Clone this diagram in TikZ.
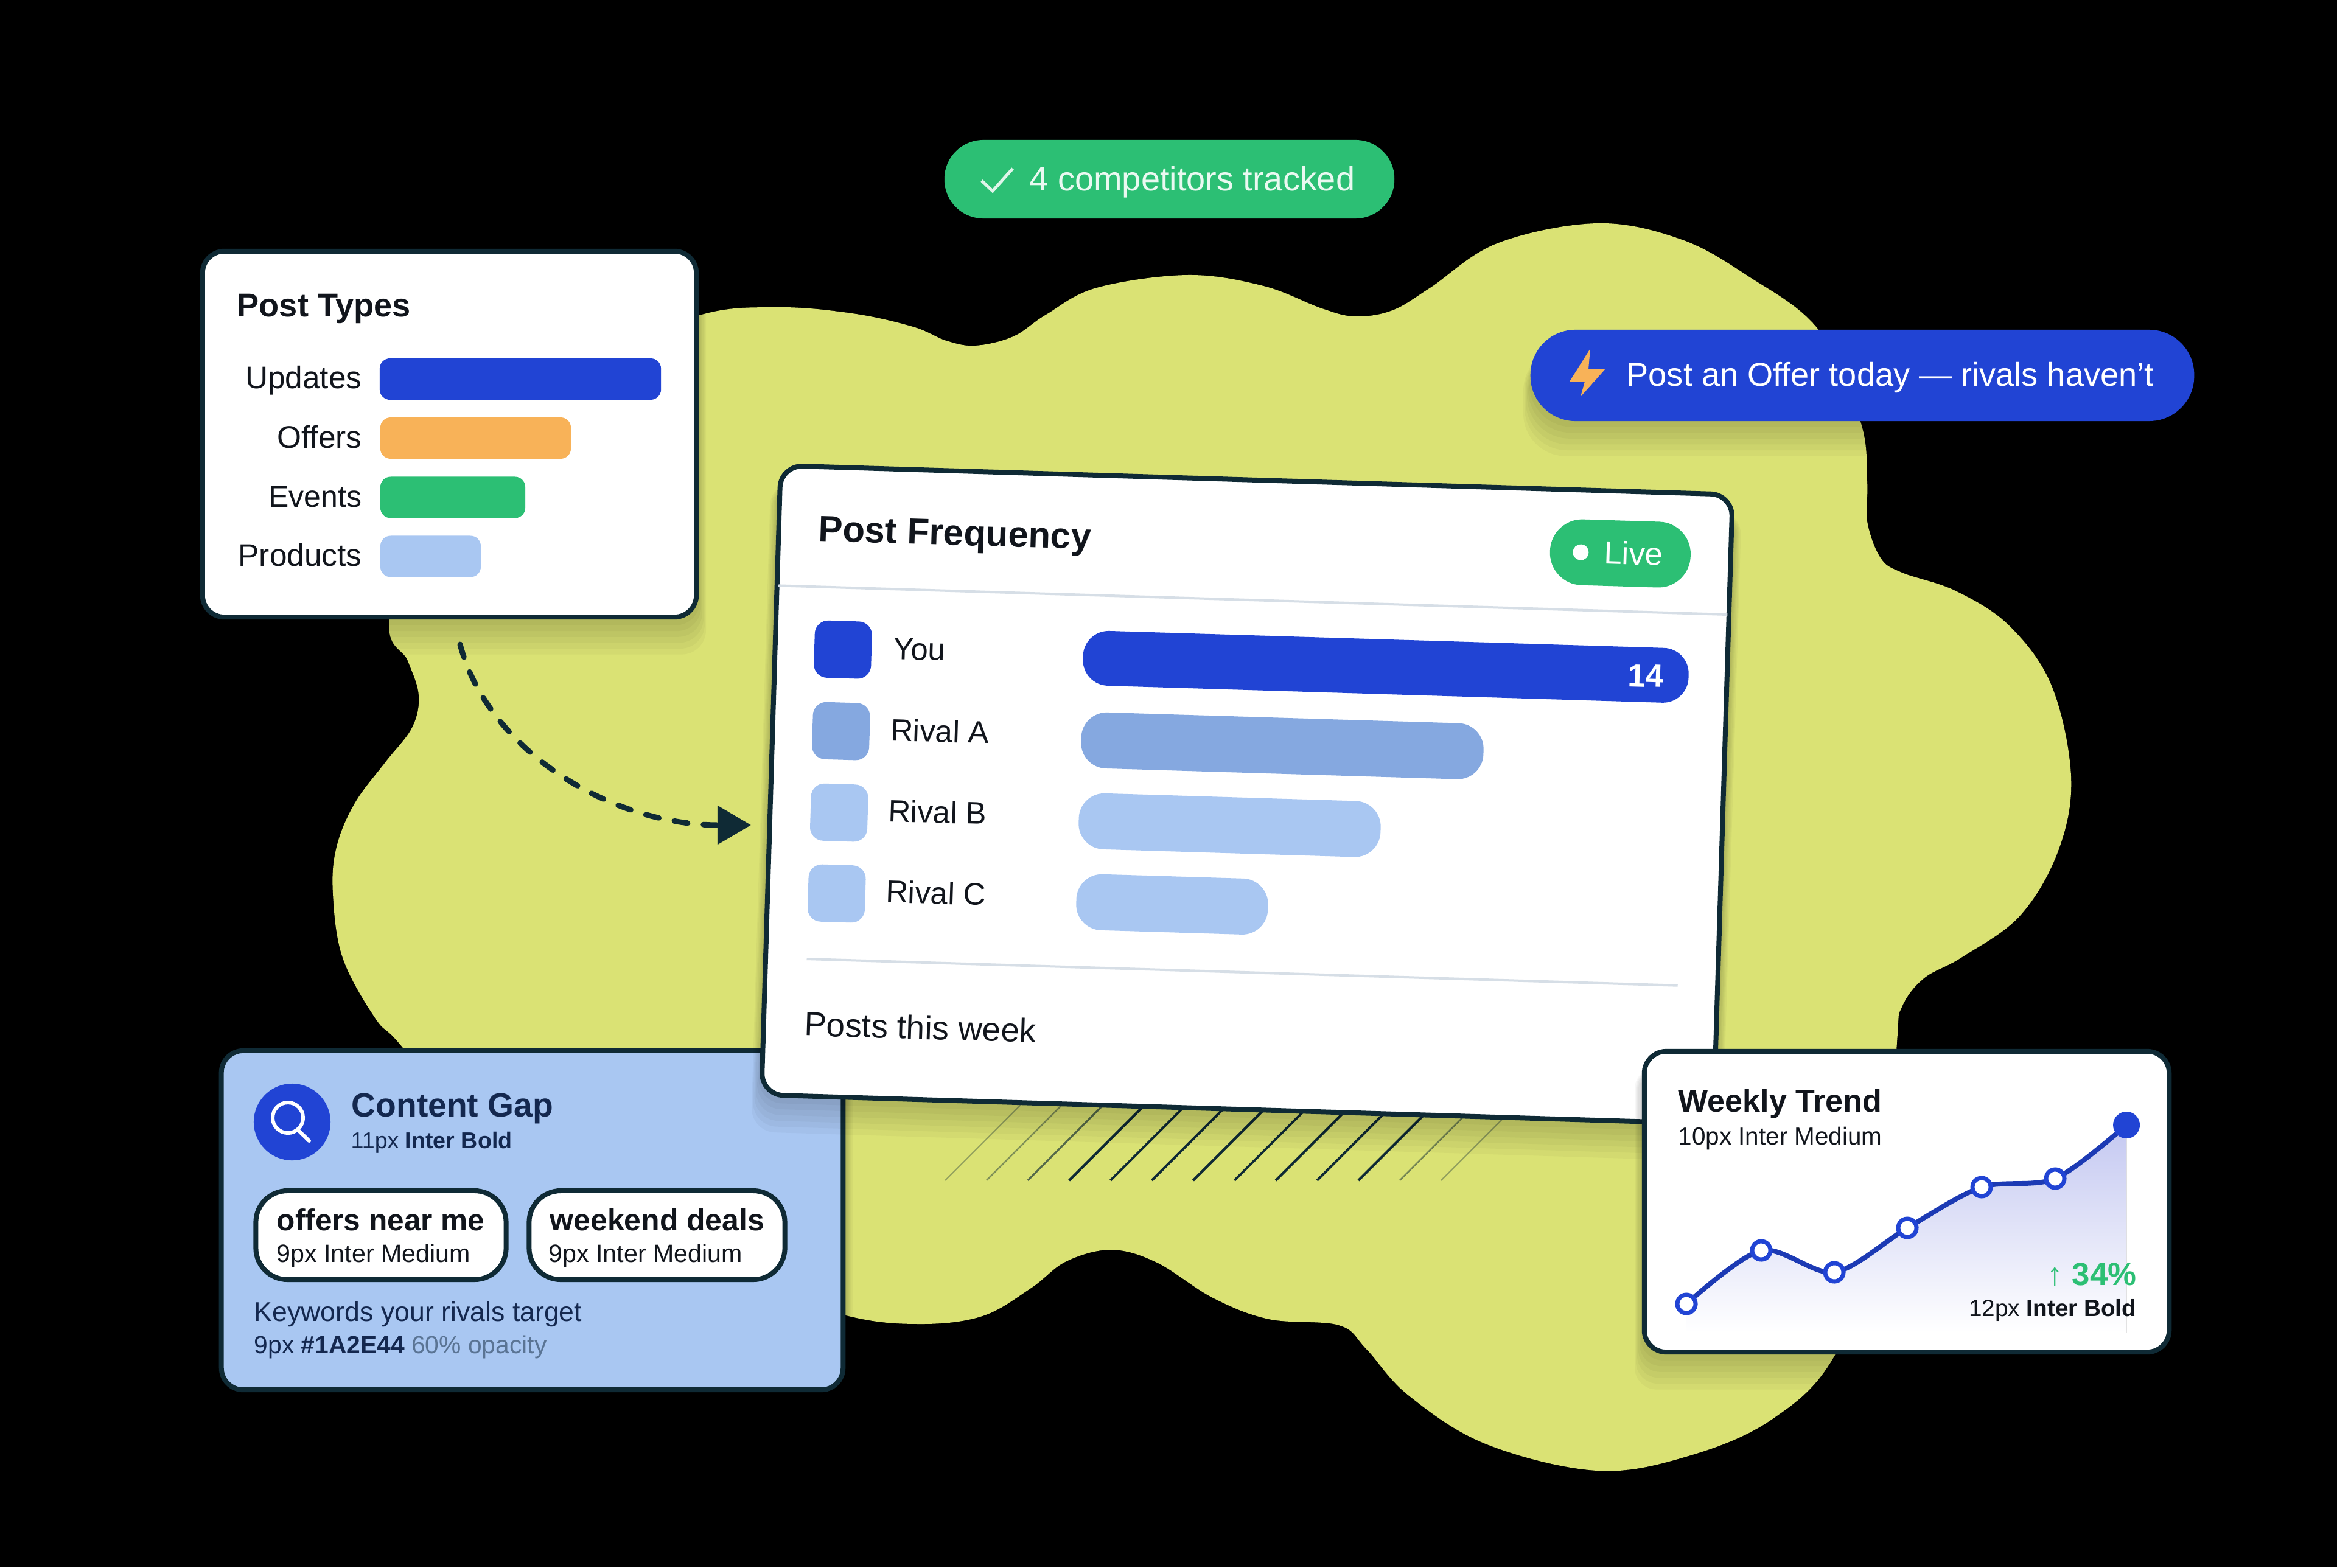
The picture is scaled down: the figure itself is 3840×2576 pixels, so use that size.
\documentclass[tikz,border=0pt]{standalone}
\usepackage{fontspec}
\setmainfont{Liberation Sans}
\usetikzlibrary{arrows.meta}
\definecolor{ink}{HTML}{0F2A35}
\definecolor{navy}{HTML}{14284F}
\definecolor{faded}{HTML}{5A7494}
\definecolor{nearblack}{HTML}{11151C}
\definecolor{blob}{HTML}{DAE274}
\definecolor{royal}{HTML}{2144D4}
\definecolor{rivalA}{HTML}{85A8E0}
\definecolor{rivalB}{HTML}{A9C7F2}
\definecolor{leaf}{HTML}{2CBF74}
\definecolor{amber}{HTML}{F8B258}
\definecolor{hairline}{HTML}{D6DEE6}
\definecolor{lilac}{HTML}{C4C8F1}
\tikzset{
  card/.style={draw=ink,line width=0.08cm,fill=white,rounded corners=0.36cm,inner sep=0},
  bar/.style={inner sep=0,rounded corners=0.17cm},
  pill/.style={inner sep=0,rounded corners=0.4cm},
  lab/.style={inner sep=0,anchor=base west,text=nearblack,font=\fontsize{#1}{#1}\selectfont},
  labb/.style={inner sep=0,anchor=base west,text=nearblack,font=\fontsize{#1}{#1}\selectfont\bfseries},
  sepline/.style={draw=hairline,line width=0.04cm},
  trendpt/.style={circle,draw=royal,line width=0.07cm,fill=white,minimum size=0.3cm,inner sep=0}
}
\newcommand{\drawcard}{\node[card]}
\newcommand{\drawbar}{\node[bar]}
\newcommand{\drawswatch}{\node[bar,rounded corners=0.22cm,minimum size=0.94cm]}
\newcommand{\softshadow}[5]{
  \foreach \g in {6,12,...,36}
    \fill[black,opacity=0.03,rounded corners=#5cm] (#1-\g/3,#2+30) rectangle (#3+\g/3,#4+\g*1.6);
}

\begin{document}
\begin{tikzpicture}[x=0.01cm,y=-0.01cm]
\useasboundingbox (0,0) rectangle (3840,2576);
\fill[black] (0,0) rectangle (3840,2576);

%backdrop
\fill[blob] plot[smooth cycle,tension=0.6] coordinates {
  (1146,519) (1275,505) (1400,515) (1500,537) (1555,560) (1603,568) (1665,553) (1719,517)
  (1802,473) (1952,452) (2076,470) (2172,507) (2227,520) (2288,510) (2350,473) (2460,400)
  (2624,367) (2761,393) (2871,453) (2988,542) (3057,693) (3068,792) (3068,857) (3090,917)
  (3125,941) (3213,971) (3301,1028) (3371,1127) (3403,1277) (3382,1398) (3319,1505) (3224,1573)
  (3161,1608) (3125,1655) (3117,1712) (3100,2000) (3015,2227) (2911,2333) (2774,2393) (2624,2417)
  (2441,2373) (2314,2293) (2245,2217) (2200,2178) (2085,2168) (1993,2133) (1901,2075)
  (1826,2054) (1752,2073) (1694,2117) (1614,2163) (1511,2176) (1390,2162) (1200,2100)
  (800,1900) (662,1722) (617,1674) (563,1574) (547,1468) (553,1392) (583,1320)
  (633,1253) (677,1196) (688,1143) (670,1086) (640,1019) (700,800) (950,600)};

%hatching under the main card
\foreach \i/\o/\w in {0/0.35/0.02,1/0.45/0.025,2/0.65/0.03,3/1/0.04,4/1/0.04,5/1/0.04,6/1/0.04,7/1/0.04,8/1/0.04,9/1/0.04,10/1/0.04,11/0.5/0.025,12/0.35/0.02}
  \draw[ink,opacity=\o,line width=\w cm] (1553+67.9*\i,1940) -- (1553+67.9*\i+135,1805);

%post types
\softshadow{329}{409}{1148}{1018}{0.4}
\drawcard[minimum width=8.11cm,minimum height=6.01cm] (types) at (738.5,713.5) {};
\node[labb=15.4] (typesTitle) at (389,521) {Post Types};
\drawbar[fill=royal,minimum width=4.62cm,minimum height=0.68cm] (barUpdates) at (855,623) {};
\drawbar[fill=amber,minimum width=3.13cm,minimum height=0.68cm] (barOffers) at (781.5,720) {};
\drawbar[fill=leaf,minimum width=2.38cm,minimum height=0.68cm] (barEvents) at (744,817.5) {};
\drawbar[fill=rivalB,minimum width=1.65cm,minimum height=0.68cm] (barProducts) at (707.5,914.5) {};
\node[lab=14.6,anchor=base east] (labUpdates) at (595,638) {Updates};
\node[lab=14.6,anchor=base east] (labOffers) at (595,736) {Offers};
\node[lab=14.2,anchor=base east] (labEvents) at (595,833) {Events};
\node[lab=14.6,anchor=base east] (labProducts) at (595,930) {Products};

%arrow to the main card
\coordinate (flowStart) at (756,1059);
\coordinate (flowEnd) at (1234,1356);
\draw[ink,line width=0.09cm,line cap=round,dash pattern=on 0.22cm off 0.26cm,-{Triangle[length=0.55cm,width=0.62cm]}]
  (flowStart) .. controls (800,1230) and (1000,1356) .. (flowEnd);

%content gap
\softshadow{360}{1723}{1389}{2288}{0.36}
\drawcard[fill=rivalB,minimum width=10.21cm,minimum height=5.57cm] (gap) at (874.5,2005.5) {};
\node[circle,fill=royal,minimum size=1.26cm,inner sep=0] (gapIcon) at (480,1844) {};
\node[circle,draw=white,line width=0.06cm,minimum size=0.5cm,inner sep=0] (lens) at (473,1837) {};
\coordinate (lensEnd) at (508,1875);
\draw[white,line width=0.06cm,line cap=round] (lens.-50) -- (lensEnd);
\node[labb=15.7,text=navy] (gapTitle) at (577,1835) {Content Gap};
\node[lab=10.7,text=navy] (gapSub) at (576,1887) {11px \textbf{Inter Bold}};
\drawcard[rounded corners=0.52cm,minimum width=4.11cm,minimum height=1.46cm] (chipOne) at (626,2030) {};
\drawcard[rounded corners=0.52cm,minimum width=4.2cm,minimum height=1.46cm] (chipTwo) at (1079.5,2030) {};
\node[labb=14.1] (chipOneText) at (454,2022) {offers near me};
\node[lab=11.7] (chipOneSub) at (454,2074) {9px Inter Medium};
\node[labb=14.2] (chipTwoText) at (903,2022) {weekend deals};
\node[lab=11.7] (chipTwoSub) at (901,2074) {9px Inter Medium};
\node[lab=12.7,text=navy] (gapNote) at (417,2171) {Keywords your rivals target};
\node[lab=11.6,text=navy] (gapSpec) at (417,2224) {9px \textbf{\#1A2E44} {\color{faded}60\% opacity}};

%post frequency
\begin{scope}[shift={(2049,1306)},rotate=-1.75,every node/.append style={transform shape}]
\softshadow{-786}{-521}{786}{521}{0.4}
\drawcard[minimum width=15.64cm,minimum height=10.34cm] (freq) at (0,0) {};
\node[labb=17] (freqTitle) at (-718,-395) {Post Frequency};
\node[pill,fill=leaf,rounded corners=0.53cm,minimum width=2.31cm,minimum height=1.08cm] (live) at (601,-415) {};
\node[circle,fill=white,minimum size=0.26cm,inner sep=0] (liveDot) at (536,-415) {};
\node[lab=15,text=white] (liveText) at (574,-397) {Live};
\coordinate (sepTopA) at (-780,-320);
\coordinate (sepTopB) at (780,-320);
\draw[sepline] (sepTopA) -- (sepTopB);

\drawswatch[fill=royal] (swYou) at (-671,-218) {};
\drawswatch[fill=rivalA] (swA) at (-670,-84) {};
\drawswatch[fill=rivalB] (swB) at (-669,50) {};
\drawswatch[fill=rivalB] (swC) at (-669,183) {};
\node[lab=14.5] (nameYou) at (-589,-205) {You};
\node[lab=14.5] (nameA) at (-589,-71) {Rival A};
\node[lab=14.5] (nameB) at (-589,62) {Rival B};
\node[lab=14.5] (nameC) at (-589,195) {Rival C};

\drawbar[fill=royal,rounded corners=0.42cm,minimum width=9.95cm,minimum height=0.9cm] (barYou) at (221.5,-217) {};
\drawbar[fill=rivalA,rounded corners=0.42cm,minimum width=6.61cm,minimum height=0.92cm] (barA) at (55.5,-82) {};
\drawbar[fill=rivalB,rounded corners=0.42cm,minimum width=4.96cm,minimum height=0.92cm] (barB) at (-27,51) {};
\drawbar[fill=rivalB,rounded corners=0.42cm,minimum width=3.15cm,minimum height=0.92cm] (barC) at (-117.5,184) {};
\node[labb=15,text=white,anchor=base east] (barYouValue) at (679,-197) {14};

\coordinate (sepLowA) at (-715,292);
\coordinate (sepLowB) at (717,292);
\draw[sepline] (sepLowA) -- (sepLowB);
\node[lab=15.6] (freqNote) at (-716,418) {Posts this week};
\end{scope}

%weekly trend
\softshadow{2698}{1724}{3568}{2226}{0.36}
\drawcard[minimum width=8.62cm,minimum height=4.94cm] (trend) at (3133,1975) {};
\node[labb=14.8] (trendTitle) at (2757,1827) {Weekly Trend};
\node[lab=11.5] (trendSub) at (2757,1881) {10px Inter Medium};
\foreach \n/\px/\py in {1/2771/2143,2/2894/2055,3/3014/2091,4/3134/2018,5/3256/1951,6/3377/1937,7/3494/1849}
  \coordinate (c\n) at (\px,\py);
\coordinate (areaR) at (3494,2190);
\coordinate (areaL) at (2771,2190);
\fill[top color=lilac,bottom color=white] plot[smooth,tension=0.5] coordinates {(c1) (c2) (c3) (c4) (c5) (c6) (c7)} -- (areaR) -- (areaL) -- cycle;
\draw[royal!85!black,line width=0.08cm] plot[smooth,tension=0.5] coordinates {(c1) (c2) (c3) (c4) (c5) (c6) (c7)};
\foreach \n in {1,...,6}
  \node[trendpt] (pt\n) at (c\n) {};
\node[circle,fill=royal,minimum size=0.44cm,inner sep=0] (pt7) at (c7) {};
\node[labb=15,text=leaf,anchor=base east] (trendGain) at (3511,2112) {↑ 34\%};
\node[lab=11,anchor=base east] (trendGainSub) at (3511,2163) {12px \textbf{Inter Bold}};

%badges
\node[pill,fill=leaf,rounded corners=0.64cm,minimum width=7.39cm,minimum height=1.29cm] (tracked) at (1921.5,294.5) {};
\draw[white!85!leaf,line width=0.05cm] (1613,297) -- (1631,314) -- (1664,277);
\node[lab=15.9,text=white!90!leaf] (trackedText) at (1691,314) {4 competitors tracked};
\softshadow{2515}{542}{3605}{692}{0.7}
\node[pill,fill=royal,rounded corners=0.74cm,minimum width=10.9cm,minimum height=1.5cm] (offer) at (3060,617) {};
\fill[amber] (2613,573) -- (2579,627) -- (2604,627) -- (2597,652) -- (2638,606) -- (2610,606) -- cycle;
\node[lab=15.4,text=white] (offerText) at (2672,634) {Post an Offer today — rivals haven't};
\end{tikzpicture}
\end{document}
